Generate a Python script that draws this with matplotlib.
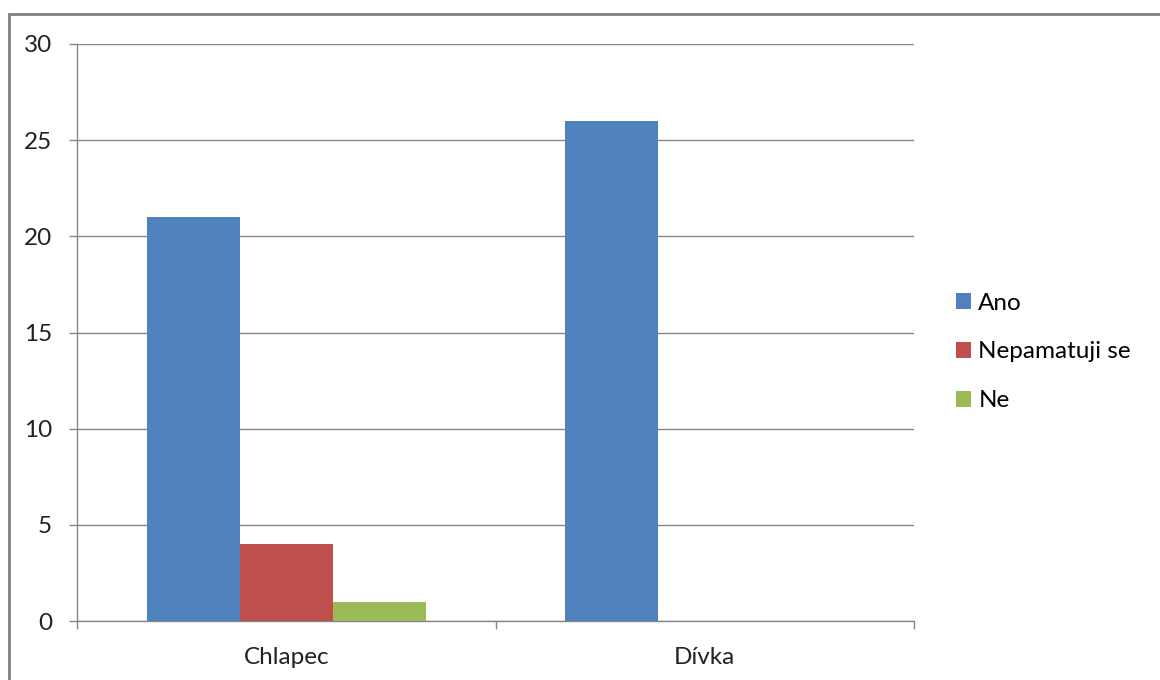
import matplotlib
matplotlib.use("Agg")
import matplotlib.pyplot as plt
import numpy as np
from matplotlib.patches import Rectangle

categories = ["Chlapec", "Dívka"]
series = ["Ano", "Nepamatuji se", "Ne"]
ano = [21, 26]
nepamatuji = [4, 0]
ne = [1, 0]
colors = ["#4F81BD", "#C0504D", "#9BBB59"]
yticks = [0, 5, 10, 15, 20, 25, 30]

plt.rcParams['font.family'] = ['Lato', 'DejaVu Sans']

fig = plt.figure(figsize=(11.6, 6.8), dpi=100)
ax = fig.add_axes([77/1160, 1-621/680, (914-77)/1160, (621-44)/680])

x = np.arange(len(categories))
w = 0.222
vals = [ano, nepamatuji, ne]
for i, (name, v, c) in enumerate(zip(series, vals, colors)):
    ax.bar(x + (i-1)*w, v, width=w, color=c, label=name, zorder=3)

ax.set_xlim(-0.5, len(categories)-0.5)
ax.set_ylim(0, 30)
ax.set_yticks(yticks)
ax.yaxis.grid(True, color="#868686", linewidth=1, zorder=0)
ax.set_xticks(np.arange(-0.5, len(categories)), minor=False)
ax.set_xticklabels([])
ax.set_xticks(x, minor=True)
ax.set_xticklabels(categories, minor=True)
ax.tick_params(axis='x', which='minor', length=0, pad=19, labelsize=17.5, colors="#222222")
ax.tick_params(axis='x', which='major', length=6, color="#868686", width=1)
ax.tick_params(axis='y', length=6, color="#868686", width=1, labelsize=17.5, labelcolor="#222222", pad=12)
for s in ["top", "right"]:
    ax.spines[s].set_visible(False)
for s in ["left", "bottom"]:
    ax.spines[s].set_color("#868686")
    ax.spines[s].set_linewidth(1)

handles, labels = ax.get_legend_handles_labels()
leg = fig.legend(handles, labels, loc="center left", bbox_to_anchor=(956/1160, 1-352/680),
                 frameon=False, fontsize=17.5, handlelength=0.62, handleheight=0.62,
                 handletextpad=0.3, labelspacing=1.15, borderaxespad=0, borderpad=0)

fig.patches.append(Rectangle((9/1160, -0.1), 1.2, 1-14/680+0.1, transform=fig.transFigure,
                             fill=False, edgecolor="#808080", linewidth=2))

fig.savefig("out.png", dpi=100)
